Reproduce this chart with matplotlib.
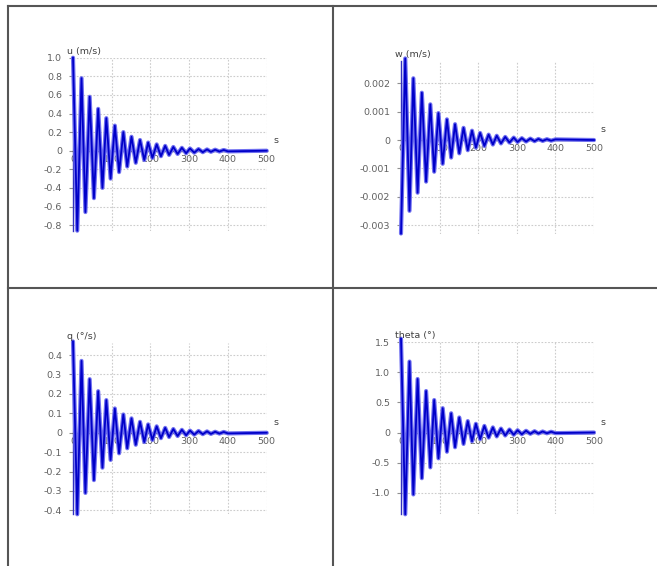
import matplotlib
matplotlib.use('Agg')
import matplotlib.pyplot as plt
from matplotlib.lines import Line2D

# ---- data (extrema) ----
t_ext = [0, 11, 22, 32, 43, 54, 65, 76, 86, 97, 108, 119, 130, 140, 151, 162, 173,
         184, 194, 205, 216, 227, 238, 248, 259, 270, 281, 292, 302, 313, 324, 335,
         346, 356, 367, 378, 389, 400, 500]

u_vals = [1.0, -0.86, 0.78, -0.66, 0.58, -0.51, 0.45, -0.40, 0.35, -0.30, 0.27, -0.23,
          0.20, -0.17, 0.15, -0.13, 0.115, -0.10, 0.088, -0.077, 0.068, -0.059, 0.052,
          -0.045, 0.040, -0.035, 0.031, -0.027, 0.024, -0.021, 0.018, -0.016, 0.014,
          -0.012, 0.011, -0.009, 0.008, -0.007, 0.0]

w_vals = [-0.0033, 0.00288, -0.0025, 0.00218, -0.00186, 0.00167, -0.00147, 0.00126,
          -0.00112, 0.00095, -0.00084, 0.00073, -0.00062, 0.00056, -0.00047, 0.00043,
          -0.00036, 0.00033, -0.00027, 0.00025, -0.00021, 0.00019, -0.00016, 0.00015,
          -0.00012, 0.00011, -0.00009, 0.000085, -0.00007, 0.000065, -0.000055, 0.00005,
          -0.000042, 0.000038, -0.000032, 0.000029, -0.000024, 0.000022, 0.0]

q_vals = [0.47, -0.42, 0.37, -0.31, 0.276, -0.244, 0.214, -0.18, 0.168, -0.14, 0.125,
          -0.106, 0.094, -0.08, 0.074, -0.062, 0.056, -0.048, 0.043, -0.037, 0.033,
          -0.028, 0.025, -0.022, 0.019, -0.017, 0.015, -0.013, 0.011, -0.01, 0.009,
          -0.0075, 0.007, -0.006, 0.005, -0.0045, 0.004, -0.0035, 0.0]

theta_vals = [1.56, -1.36, 1.18, -1.03, 0.89, -0.76, 0.69, -0.58, 0.54, -0.43, 0.405,
              -0.32, 0.32, -0.245, 0.25, -0.19, 0.19, -0.145, 0.145, -0.11, 0.11, -0.085,
              0.085, -0.065, 0.065, -0.05, 0.05, -0.038, 0.038, -0.029, 0.029, -0.022,
              0.022, -0.017, 0.017, -0.013, 0.013, -0.01, 0.0]

x_ticks = [0, 100, 200, 300, 400, 500]
x_ticklabels = ['0', '100', '200', '300', '400', '500']

u_ticks = [1.0, 0.8, 0.6, 0.4, 0.2, 0, -0.2, -0.4, -0.6, -0.8]
u_ticklabels = ['1.0', '0.8', '0.6', '0.4', '0.2', '0', '-0.2', '-0.4', '-0.6', '-0.8']
w_ticks = [0.002, 0.001, 0, -0.001, -0.002, -0.003]
w_ticklabels = ['0.002', '0.001', '0', '-0.001', '-0.002', '-0.003']
q_ticks = [0.4, 0.3, 0.2, 0.1, 0, -0.1, -0.2, -0.3, -0.4]
q_ticklabels = ['0.4', '0.3', '0.2', '0.1', '0', '-0.1', '-0.2', '-0.3', '-0.4']
theta_ticks = [1.5, 1.0, 0.5, 0, -0.5, -1.0]
theta_ticklabels = ['1.5', '1.0', '0.5', '0', '-0.5', '-1.0']

titles = ['u (m/s)', 'w (m/s)', 'q (°/s)', 'theta (°)']

W, H = 657, 566
fig = plt.figure(figsize=(W / 100, H / 100), dpi=100)
fig.patch.set_facecolor('white')

TXT = '#606060'
FS = 6.8


def make_panel(left_px, right_px, top_px, bottom_px, ylim, tvals, vals,
               yticks, yticklabels, title):
    ax = fig.add_axes([left_px / W, 1 - bottom_px / H,
                       (right_px - left_px) / W, (bottom_px - top_px) / H])
    ax.set_xlim(0, 500)
    ax.set_ylim(*ylim)
    ax.patch.set_alpha(0)
    for s in ['top', 'right']:
        ax.spines[s].set_visible(False)
    ax.spines['left'].set_position(('data', 0))
    ax.spines['bottom'].set_position(('data', 0))
    ax.spines['left'].set_color('#3030c0')
    ax.spines['bottom'].set_color('#505050')
    ax.spines['left'].set_linewidth(1.0)
    ax.spines['bottom'].set_linewidth(1.0)
    ax.set_xticks(x_ticks)
    ax.set_xticklabels(x_ticklabels)
    ax.set_yticks(yticks)
    ax.set_yticklabels(yticklabels)
    ax.tick_params(axis='x', length=0, pad=3, labelsize=FS, labelcolor=TXT)
    ax.tick_params(axis='y', length=3, width=0.8, color='#909090', pad=5,
                   labelsize=FS, labelcolor=TXT, direction='out')
    # grid
    for xv in x_ticks[1:]:
        ax.axvline(xv, color='#cccccc', lw=0.8, ls=(0, (1.5, 1.5)), zorder=0)
    for yv in yticks:
        if yv != 0:
            ax.axhline(yv, color='#cccccc', lw=0.8, ls=(0, (1.5, 1.5)), zorder=0)
    # curve: light wide underlay + dark thin line
    ax.plot(tvals, vals, color='#7070f0', lw=3.0, solid_joinstyle='round',
            solid_capstyle='round', clip_on=False, zorder=3)
    ax.plot(tvals, vals, color='#0000c8', lw=1.3, solid_joinstyle='round',
            clip_on=False, zorder=4)
    ax.annotate(title, xy=(0, 1), xycoords='axes fraction', xytext=(-4, 1.5),
                textcoords='offset points', ha='left', va='bottom',
                fontsize=FS, color='#404040')
    ax.annotate('s', xy=(500, 0), xycoords='data', xytext=(5, 4),
                textcoords='offset points', ha='left', va='bottom',
                fontsize=FS, color='#404040')
    return ax


make_panel(73, 266.7, 57.7, 230.7, (-0.86, 1.0), t_ext, u_vals,
           u_ticks, u_ticklabels, titles[0])
make_panel(401, 594, 60.7, 233.5, (-0.0033, 0.0028), t_ext, w_vals,
           w_ticks, w_ticklabels, titles[1])
make_panel(73, 266.7, 343.4, 514.3, (-0.42, 0.46), t_ext, q_vals,
           q_ticks, q_ticklabels, titles[2])
make_panel(401, 594, 342.3, 514.3, (-1.36, 1.5), t_ext, theta_vals,
           theta_ticks, theta_ticklabels, titles[3])

# panel frame lines
bc = '#555555'
blw = 1.5
fig.add_artist(Line2D([8 / W, 1], [1 - 6 / H, 1 - 6 / H], color=bc, lw=blw))
fig.add_artist(Line2D([8 / W, 8 / W], [0, 1 - 6 / H], color=bc, lw=blw))
fig.add_artist(Line2D([333 / W, 333 / W], [0, 1 - 6 / H], color=bc, lw=blw))
fig.add_artist(Line2D([8 / W, 1], [1 - 288 / H, 1 - 288 / H], color=bc, lw=blw))

fig.savefig('out.png', dpi=100, facecolor='white')
